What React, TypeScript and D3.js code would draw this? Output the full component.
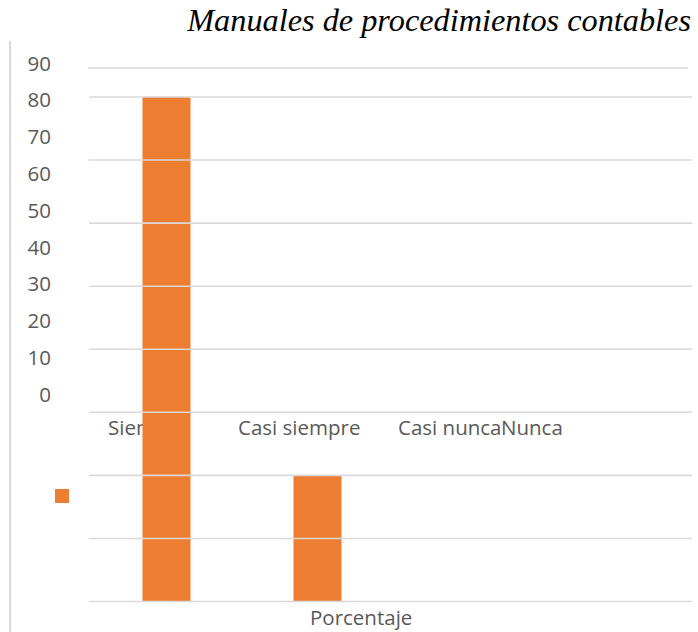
import * as d3 from 'd3';

// categories and values
const categories = ['Siempre', 'Casi siempre', 'Casi nunca', 'Nunca'];
const values = [80, 20, 0, 0];
const gridTicks = [0, 10, 20, 30, 40, 50, 60, 70, 80];
const labelTicks = [0, 10, 20, 30, 40, 50, 60, 70, 80, 90];
const title = 'Manuales de procedimientos contables';
const seriesName = 'Porcentaje';

// broken label flow of the original, start offsets only
const catLabelX = [108, 238, 398, 501];

const W = 698;
const H = 632;
const grid = '#d9d9d9';
const barColor = '#ED7D31';
const textColor = '#595959';
const font = "'Open Sans', sans-serif";

const App = () => {
  const x = d3.scaleBand().domain(categories).range([91, 695]).paddingInner(0.682).paddingOuter(0.341);
  const y = d3.scaleLinear().domain([0, 80]).range([601.5, 97]);
  const yLab = d3.scaleLinear().domain([0, 90]).range([394.5, 63.5]);

  return (
    <svg width={W} height={H} style={{ position: 'absolute', left: 0, top: 0, background: '#fff' }}>
      <line x1={10} x2={10} y1={41} y2={H} stroke={grid} strokeWidth={2} />
      <text x={691} y={31} fontFamily="'Liberation Serif', serif" fontStyle='italic' fontSize={32.3} textAnchor='end' fill='#000'>
        {title}
      </text>
      {labelTicks.map((t) => (
        <text key={t} x={51} y={yLab(t)} dy='0.35em' textAnchor='end' fontFamily={font} fontSize={20.5} fill={textColor}>
          {t}
        </text>
      ))}
      {categories.map((c, i) => (
        <text key={c} x={catLabelX[i]} y={435} fontFamily={font} fontSize={20.5} fill={textColor}>
          {c}
        </text>
      ))}
      {categories.map((c, i) => (
        values[i] > 0 ? (
          <rect key={c} x={x(c)} width={x.bandwidth()} y={y(values[i])} height={y(0) - y(values[i])} fill={barColor} />
        ) : null
      ))}
      <line x1={88} x2={688} y1={68} y2={68} stroke={grid} strokeWidth={1.6} />
      {gridTicks.map((t) => (
        <line key={t} x1={89} x2={692} y1={y(t)} y2={y(t)} stroke={grid} strokeWidth={1.6} />
      ))}
      <rect x={55} y={489} width={14} height={14} fill={barColor} />
      <text x={310} y={625} fontFamily={font} fontSize={20.5} fill={textColor}>
        {seriesName}
      </text>
    </svg>
  );
};

export default App;
